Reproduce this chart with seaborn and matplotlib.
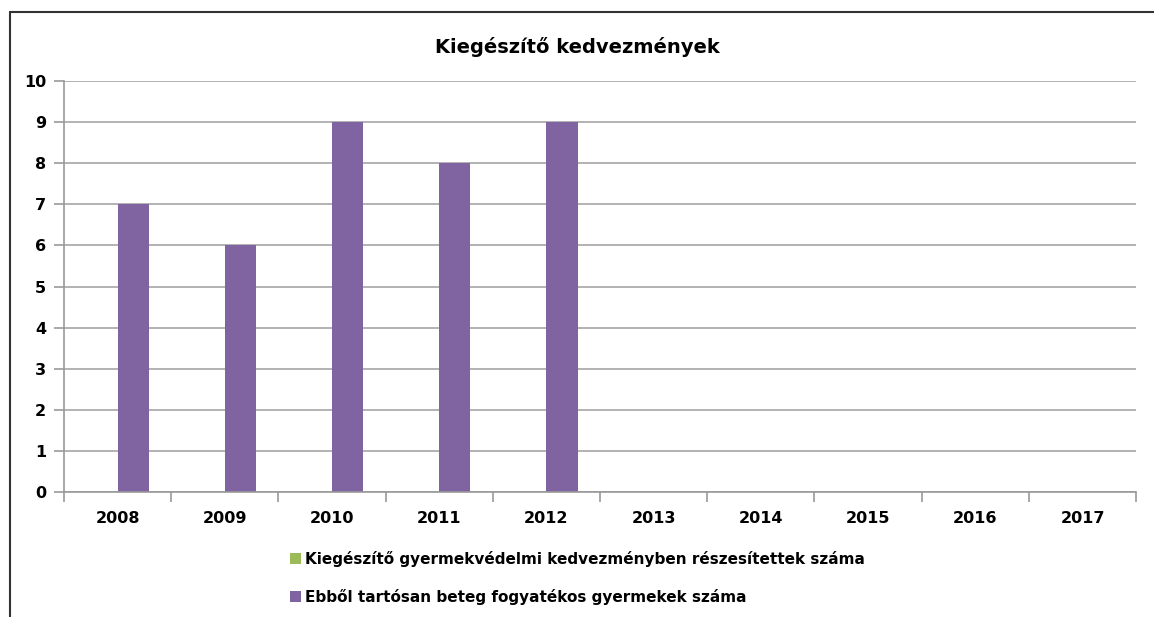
"""Kiegészítő kedvezmények - oszlopdiagram"""

import numpy as np
import pandas as pd
import matplotlib
matplotlib.use("Agg")
import matplotlib.pyplot as plt
import seaborn as sns
from matplotlib.patches import Patch
from matplotlib.lines import Line2D

years = ["2008", "2009", "2010", "2011", "2012", "2013", "2014", "2015", "2016", "2017"]
series_names = [
    "Kiegészítő gyermekvédelmi kedvezményben részesítettek száma",
    "Ebből tartósan beteg fogyatékos gyermekek száma",
]
kiegeszito = [0, 0, 0, 0, 0, 0, 0, 0, 0, 0]
tartosan_beteg = [7, 6, 9, 8, 9, 0, 0, 0, 0, 0]
colors = ["#9BBB59", "#8064A2"]

sns.set_style("white")
plt.rcParams["font.family"] = ["DejaVu Sans"]
plt.rcParams["text.color"] = "black"
plt.rcParams["xtick.color"] = "black"
plt.rcParams["ytick.color"] = "black"

df = pd.DataFrame({
    "Év": years * 2,
    "Sorozat": [series_names[0]] * len(years) + [series_names[1]] * len(years),
    "Érték": kiegeszito + tartosan_beteg,
})

fig = plt.figure(figsize=(11.54, 6.17), dpi=100)
ax = fig.add_axes([0.0555, 0.2026, 0.929, 0.666])

sns.barplot(data=df, x="Év", y="Érték", hue="Sorozat", order=years,
            hue_order=series_names, palette=colors, width=0.58, saturation=1,
            linewidth=0, errorbar=None, ax=ax, legend=False)

ax.set_ylim(0, 10)
ax.set_xlim(-0.5, len(years) - 0.5)
ax.set_yticks(range(0, 11))
ax.set_yticklabels([str(i) for i in range(0, 11)], fontsize=11.5, fontweight="bold")
ax.set_xticks(range(len(years)))
ax.set_xticklabels(years, fontsize=11.5, fontweight="bold")
ax.set_xticks(np.arange(-0.5, len(years), 1.0), minor=True)
ax.tick_params(axis="x", which="both", bottom=True)
ax.tick_params(axis="y", left=True)
ax.tick_params(axis="x", which="major", length=0, pad=14)
ax.tick_params(axis="x", which="minor", length=7, direction="out", color="#999999", width=1.2)
ax.tick_params(axis="y", length=7, direction="out", color="#999999", width=1.2, pad=6)
ax.set_xlabel("")
ax.set_ylabel("")

ax.yaxis.grid(True, color="#a6a6a6", linewidth=1.2)
ax.set_axisbelow(True)
for side in ["top", "right"]:
    ax.spines[side].set_visible(False)
for side in ["left", "bottom"]:
    ax.spines[side].set_color("#999999")
    ax.spines[side].set_linewidth(1.2)

fig.text(0.5, 0.924, "Kiegészítő kedvezmények", ha="center", va="center",
         fontsize=14, fontweight="bold", color="black")

handles = [Patch(facecolor=c, edgecolor="none", label=n) for c, n in zip(colors, series_names)]
fig.legend(handles=handles, loc="upper left", bbox_to_anchor=(0.246, 0.117),
           frameon=False, ncol=1, prop={"size": 11, "weight": "bold"},
           handlelength=0.7, handleheight=0.7, handletextpad=0.3, labelspacing=1.45,
           borderaxespad=0, labelcolor="black")

# keret (csak a felső és bal oldali vonal látszik)
fig.add_artist(Line2D([0.009, 1.0], [0.981, 0.981], color="#333333", linewidth=1.5))
fig.add_artist(Line2D([0.009, 0.009], [0.0, 0.981], color="#333333", linewidth=1.5))

fig.savefig("out.png", dpi=100)
